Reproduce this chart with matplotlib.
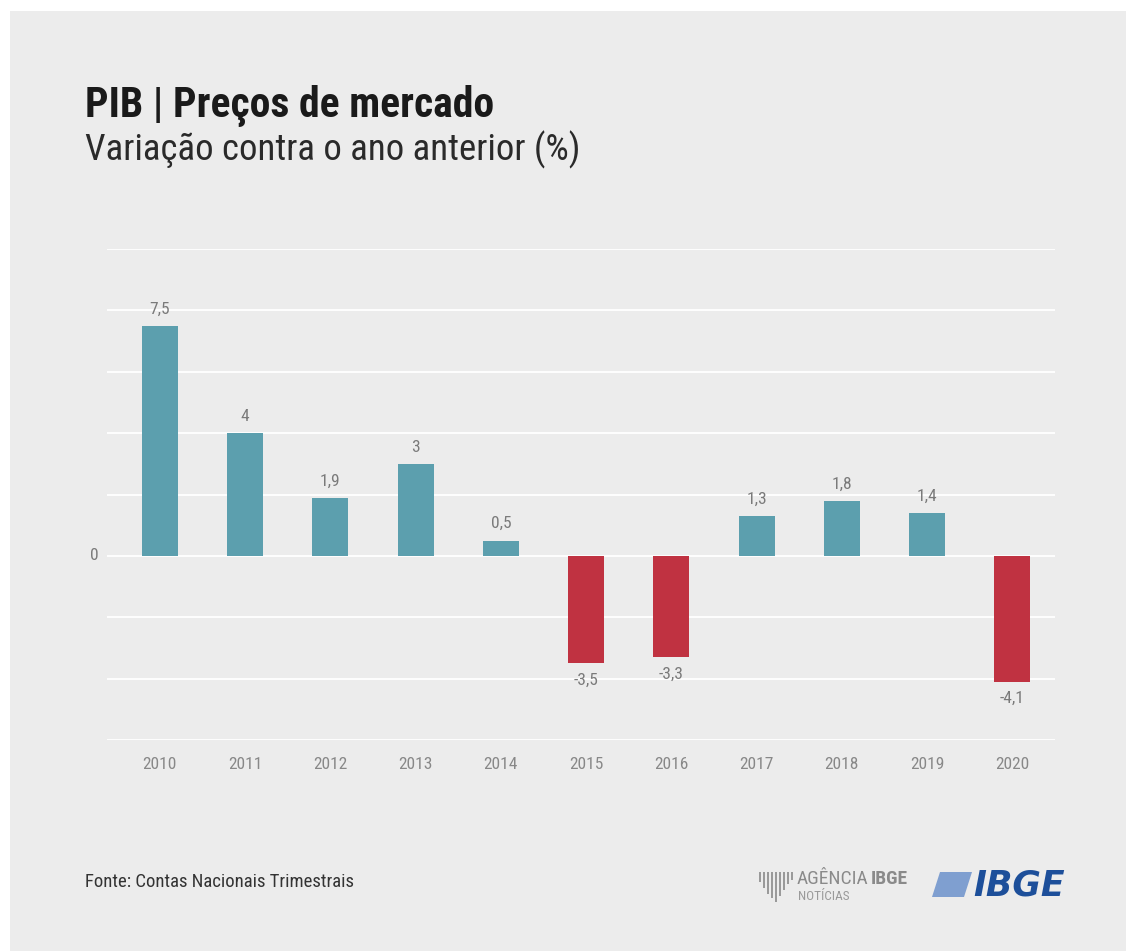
import matplotlib.pyplot as plt
import matplotlib.patches as mpatches
import numpy as np

# PIB - variação anual (%)
anos = ['2010', '2011', '2012', '2013', '2014', '2015', '2016', '2017', '2018', '2019', '2020']
variacao = [7.5, 4.0, 1.9, 3.0, 0.5, -3.5, -3.3, 1.3, 1.8, 1.4, -4.1]
rotulos = ['7,5', '4', '1,9', '3', '0,5', '-3,5', '-3,3', '1,3', '1,8', '1,4', '-4,1']

azul = '#5c9fae'
vermelho = '#c03241'
fundo = '#ececec'

cond = ['Liberation Sans Narrow', 'Roboto Condensed', 'DejaVu Sans']

fig = plt.figure(figsize=(11.26, 9.51), dpi=100, facecolor='white')
# painel cinza
fig.patches.append(mpatches.Rectangle((10/1126, 0), 1 - 10/1126, 1 - 11/951,
                                      transform=fig.transFigure, facecolor=fundo,
                                      edgecolor='none', zorder=-10))

ax = fig.add_axes([107/1126, 1 - 740/951, (1055-107)/1126, (740-249)/951])
ax.set_facecolor('none')

x = np.arange(len(anos))
cores = [azul if v >= 0 else vermelho for v in variacao]
ax.bar(x, variacao, width=0.42, color=cores, zorder=3)

ax.set_ylim(-6, 10)
ax.set_xlim(-0.62, 10.5)
for g in range(-6, 11, 2):
    ax.axhline(g, color='white', lw=1.3, zorder=1)

for i, (v, r) in enumerate(zip(variacao, rotulos)):
    if v >= 0:
        ax.text(i, v + 0.3, r, ha='center', va='bottom', fontsize=12.5, color='#7a7a7a', family=cond)
    else:
        ax.text(i, v - 0.3, r, ha='center', va='top', fontsize=12.5, color='#7a7a7a', family=cond)

ax.set_xticks(x)
ax.set_xticklabels(anos, fontsize=12.5, color='#888888', family=cond)
ax.tick_params(axis='x', length=0, pad=12)
ax.set_yticks([])
ax.text(-0.72, 0, '0', ha='right', va='center', fontsize=12.5, color='#7a7a7a', family=cond)
for s in ax.spines.values():
    s.set_visible(False)

fig.text(85/1126, 1 - 117/951, 'PIB | Preços de mercado', fontsize=30, fontweight='bold',
         color='#1a1a1a', family=cond, va='baseline')
fig.text(85/1126, 1 - 160/951, 'Variação contra o ano anterior (%)', fontsize=26.5,
         color='#2a2a2a', family=cond, va='baseline')

fig.text(85/1126, 1 - 882/951, 'Fonte: Contas Nacionais Trimestrais', fontsize=13.5,
         color='#333333', family=cond, va='center')

# logos (aproximação em texto)
t_ag = fig.text(797/1126, 1 - 879/951, 'AGÊNCIA', fontsize=14, color='#8a8a8a', family=cond,
                va='center')
ax.annotate('IBGE', xy=(1, 0.5), xycoords=t_ag, xytext=(1.5, 0), textcoords='offset points',
            fontsize=14, fontweight='bold', color='#8a8a8a', family=cond,
            ha='left', va='center', annotation_clip=False)
fig.text(798/1126, 1 - 897/951, 'NOTÍCIAS', fontsize=9.5, color='#9a9a9a', family=cond,
         va='center')
for k in range(9):
    h = [10, 16, 22, 26, 30, 24, 18, 12, 8][k]
    fig.patches.append(mpatches.Rectangle(((759 + k*4)/1126, 1 - (872 + h)/951), 2/1126,
                                          h/951, transform=fig.transFigure,
                                          facecolor='#9a9a9a', edgecolor='none'))
fig.patches.append(mpatches.Polygon([(932/1126, 1 - 897/951), (940/1126, 1 - 872/951),
                                     (972/1126, 1 - 872/951), (964/1126, 1 - 897/951)],
                                    closed=True, transform=fig.transFigure,
                                    facecolor='#7f9fd0', edgecolor='none'))
fig.text(973/1126, 1 - 885/951, 'IBGE', fontsize=25, fontweight='bold', style='italic',
         color='#1d4f9a', family=['DejaVu Sans'], va='center')

fig.savefig('out.png', dpi=100, facecolor='white')
